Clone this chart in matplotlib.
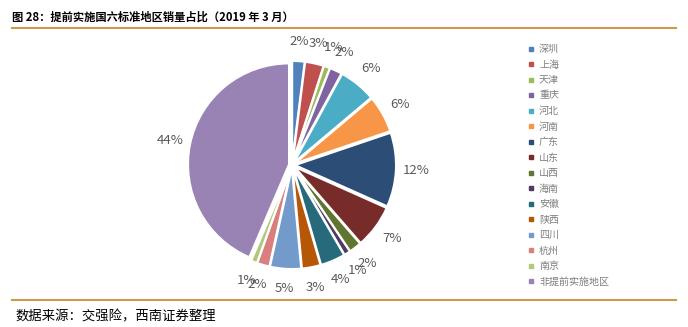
import matplotlib.pyplot as plt
from matplotlib.lines import Line2D

plt.rcParams['font.family'] = ['Noto Sans CJK SC', 'DejaVu Sans']

regions = ['深圳', '上海', '天津', '重庆', '河北', '河南', '广东', '山东',
           '山西', '海南', '安徽', '陕西', '四川', '杭州', '南京', '非提前实施地区']
shares = [2, 3, 1, 2, 6, 6, 12, 7, 2, 1, 4, 3, 5, 2, 1, 44]
colors = ['#4F81BD', '#C0504D', '#9BBB59', '#8064A2', '#4BACC6', '#F79646',
          '#2C4D75', '#772C2A', '#5F7530', '#4D3B62', '#276A7C', '#B65708',
          '#729ACA', '#D9807E', '#AFC97A', '#9983B5']

W, H = 688, 327
fig = plt.figure(figsize=(W / 100, H / 100), dpi=100)

# pie axes: centre at (292, 165) px, radius 1 = 101 px
r_px = 101
half = 1.5 * r_px
cx, cy = 292, 165
ax = fig.add_axes([(cx - half) / W, (H - cy - half) / H, 2 * half / W, 2 * half / H])
wedges, texts, autotexts = ax.pie(
    shares, colors=colors, startangle=90, counterclock=False,
    explode=[0.03] * len(shares), autopct='%.0f%%', pctdistance=1.2,
    wedgeprops=dict(edgecolor='white', linewidth=1.5),
    textprops=dict(color='#595959', fontsize=9.5))
ax.set_xlim(-1.5, 1.5)
ax.set_ylim(-1.5, 1.5)
ax.axis('off')

# legend with small square markers
handles = [Line2D([], [], marker='s', linestyle='', markersize=3,
                  markerfacecolor=c, markeredgecolor=c) for c in colors]
fig.legend(handles, regions, loc='upper left', bbox_to_anchor=(524 / W, 1 - 40 / H),
           frameon=False, fontsize=7.2, labelcolor='#7F7F7F', handlelength=0.6,
           handletextpad=0.5, labelspacing=0.55, borderaxespad=0)

# header and footer
fig.text(12 / W, 1 - 17 / H, '图 28：提前实施国六标准地区销量占比（2019 年 3 月）',
         fontsize=8.1, fontweight='bold', va='center', ha='left', color='black')
fig.add_artist(Line2D([12 / W, 676 / W], [1 - 28 / H] * 2, color='#CC9B4F', linewidth=1.5))
fig.add_artist(Line2D([12 / W, 676 / W], [1 - 300 / H] * 2, color='#CC9B4F', linewidth=1.5))
fig.text(16 / W, 1 - 316 / H, '数据来源：交强险，西南证券整理',
         fontsize=9.6, style='italic', va='center', ha='left', color='black')

fig.savefig('out.png', dpi=100)
